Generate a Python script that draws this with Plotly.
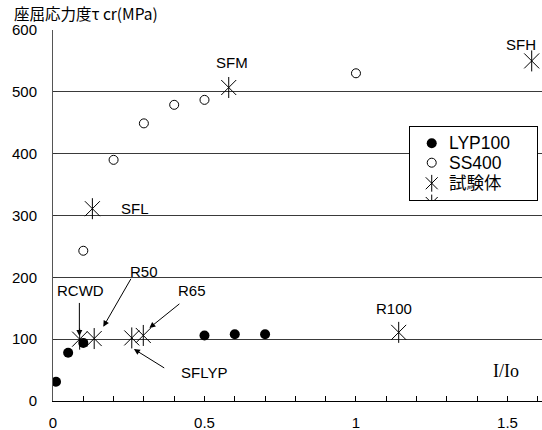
import plotly.graph_objects as go

# ---- data ----
lyp_x = [0.01, 0.05, 0.10, 0.50, 0.60, 0.70]
lyp_y = [31, 78, 94, 106, 108, 108]

ss_x = [0.10, 0.20, 0.30, 0.40, 0.50, 1.00]
ss_y = [243, 390, 449, 479, 487, 530]

test_names = ["SFH", "SFM", "SFL", "RCWD", "R50", "SFLYP", "R65", "R100"]
test_x = [1.58, 0.58, 0.13, 0.088, 0.136, 0.26, 0.298, 1.141]
test_y = [550, 507, 311, 100, 101, 102, 106, 111]

y_ticks = [0, 100, 200, 300, 400, 500, 600]
x_ticks = [0, 0.5, 1, 1.5]
x_ticktext = ["0", "0.5", "1", "1.5"]

legend_names = ["LYP100", "SS400", "試験体"]

FONT = "Arial, 'Liberation Sans', 'Noto Sans CJK JP', sans-serif"
JFONT = "'Noto Sans CJK JP', Arial, sans-serif"

W, H = 542, 430
ML, MR, MT, MB = 53, 0, 30, 29
pw, ph = W - ML - MR, H - MT - MB


def px2paper(px, py):
    return (px - ML) / pw, (H - MB - py) / ph


fig = go.Figure()

# main traces
fig.add_trace(go.Scatter(x=lyp_x, y=lyp_y, mode="markers", name="LYP100",
                         marker=dict(symbol="circle", size=10, color="black"),
                         showlegend=False))
fig.add_trace(go.Scatter(x=ss_x, y=ss_y, mode="markers", name="SS400",
                         marker=dict(symbol="circle-open", size=9, color="black",
                                     line=dict(width=1, color="black")),
                         showlegend=False))
for sym in ["x-thin-open", "line-ns-open"]:
    fig.add_trace(go.Scatter(x=test_x, y=test_y, mode="markers", name="試験体",
                             text=test_names,
                             marker=dict(symbol=sym, size=15, color="black",
                                         line=dict(width=1, color="black")),
                             showlegend=False))

# ---- manual legend in an inset subplot (clipped like the reference) ----
leg_y = [0.777, 0.511, 0.229, -0.041]
leg_mx = 0.171
fig.add_trace(go.Scatter(x=[leg_mx], y=[leg_y[0]], xaxis="x2", yaxis="y2", mode="markers",
                         marker=dict(symbol="circle", size=10, color="black"), showlegend=False))
fig.add_trace(go.Scatter(x=[leg_mx], y=[leg_y[1]], xaxis="x2", yaxis="y2", mode="markers",
                         marker=dict(symbol="circle-open", size=9, color="black",
                                     line=dict(width=1, color="black")), showlegend=False))
for sym in ["x-thin-open", "line-ns-open"]:
    fig.add_trace(go.Scatter(x=[leg_mx, leg_mx], y=[leg_y[2], leg_y[3]], xaxis="x2", yaxis="y2",
                             mode="markers",
                             marker=dict(symbol=sym, size=12, color="black",
                                         line=dict(width=1, color="black")),
                             showlegend=False))

annotations = []
for name, yy in zip(legend_names, leg_y[:3]):
    annotations.append(dict(x=0.289, y=yy, xref="x2", yref="y2", text=name, showarrow=False,
                            xanchor="left", yanchor="middle",
                            font=dict(size=17.5, color="black", family=FONT)))

# specimen labels
labels = [
    ("SFH", 1.545, 577), ("SFM", 0.591, 547), ("SFL", 0.271, 312),
    ("RCWD", 0.092, 178), ("R50", 0.300, 209), ("R65", 0.459, 179),
    ("SFLYP", 0.498, 46), ("R100", 1.125, 149),
]
for t, lx, ly in labels:
    annotations.append(dict(x=lx, y=ly, xref="x", yref="y", text=t, showarrow=False,
                            font=dict(size=15, color="black", family=FONT)))
annotations.append(dict(x=1.495, y=49, xref="x", yref="y", text="I/Io", showarrow=False,
                        font=dict(size=18, color="black",
                                  family="'Liberation Serif', 'Times New Roman', serif")))

# arrows (tip, tail) in data coordinates
arrows = [
    ((0.087, 105), (0.087, 161)),
    ((0.166, 120), (0.260, 200)),
    ((0.318, 118), (0.422, 159)),
    ((0.267, 84), (0.372, 52)),
]
for (tx, ty), (sx, sy) in arrows:
    annotations.append(dict(x=tx, y=ty, xref="x", yref="y", ax=sx, ay=sy,
                            axref="x", ayref="y", text="", showarrow=True,
                            arrowhead=2, arrowsize=1.2, arrowwidth=1, arrowcolor="black"))

# axis title (top-left)
tx, ty = px2paper(13, 1)
annotations.append(dict(x=tx, y=ty, xref="paper", yref="paper", text="座屈応力度τ cr(MPa)",
                        showarrow=False, xanchor="left", yanchor="top",
                        borderpad=0,
                        font=dict(size=15.5, color="black", family=JFONT)))

lx0, ly1 = px2paper(410, 127)
lx1, ly0 = px2paper(537, 200)

fig.update_layout(
    width=W, height=H,
    margin=dict(l=ML, r=MR, t=MT, b=MB, pad=0, autoexpand=False),
    paper_bgcolor="white", plot_bgcolor="white",
    font=dict(family=FONT, size=15, color="black"),
    showlegend=False,
    annotations=annotations,
    xaxis=dict(range=[0, 1.614], tickvals=x_ticks, ticktext=x_ticktext, automargin=False,
               showgrid=False, zeroline=False, showline=True, linecolor="black", linewidth=1,
               ticks="inside", ticklen=5, tickcolor="black", tickwidth=1,
               minor=dict(dtick=0.1, ticks="inside", ticklen=5, tickcolor="black", showgrid=False),
               ticklabelstandoff=8, tickfont=dict(size=15)),
    yaxis=dict(range=[0, 600], tickvals=y_ticks, automargin=False,
               showgrid=True, gridcolor="#3a3a3a", gridwidth=1,
               zeroline=False, showline=True, linecolor="#555", linewidth=1,
               ticks="inside", ticklen=4, tickcolor="#333",
               ticklabelstandoff=12, tickfont=dict(size=15)),
    xaxis2=dict(domain=[lx0, lx1], anchor="y2", range=[0, 1], showgrid=False, zeroline=False,
                showticklabels=False, ticks="", showline=True, mirror=True,
                linecolor="black", linewidth=1, fixedrange=True),
    yaxis2=dict(domain=[ly0, ly1], anchor="x2", range=[0, 1], showgrid=False, zeroline=False,
                showticklabels=False, ticks="", showline=True, mirror=True,
                linecolor="black", linewidth=1, fixedrange=True),
)

fig.write_html("out.html")
